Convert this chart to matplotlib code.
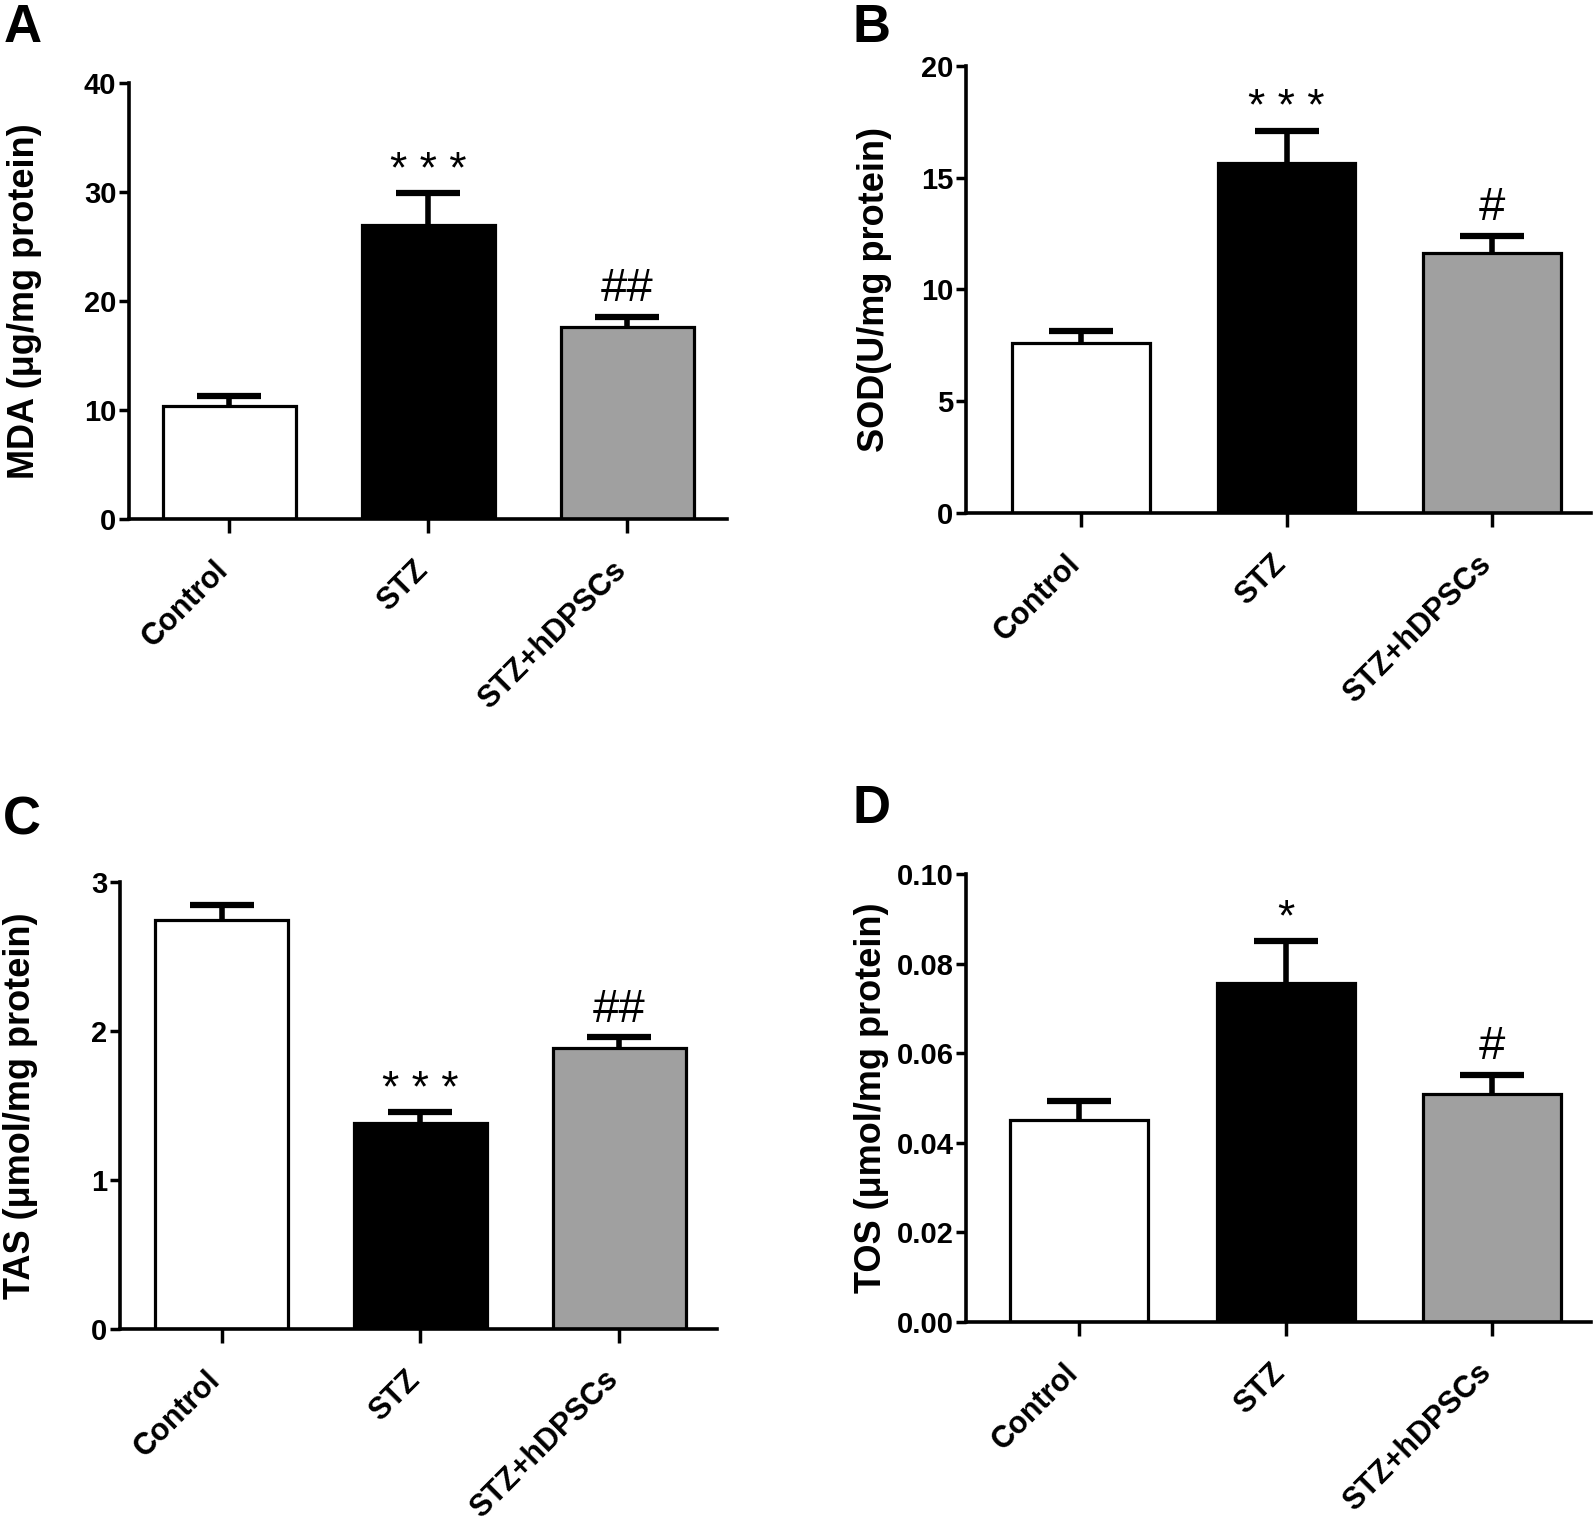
import numpy as np
import matplotlib
matplotlib.use('Agg')
import matplotlib.pyplot as plt
from matplotlib.transforms import ScaledTranslation

groups = ['Control', 'STZ', 'STZ+hDPSCs']

mda_mean = [10.35, 27.0, 17.6]
mda_err = [0.95, 2.9, 0.95]
sod_mean = [7.6, 15.65, 11.65]
sod_err = [0.55, 1.45, 0.75]
tas_mean = [2.75, 1.38, 1.89]
tas_err = [0.10, 0.075, 0.07]
tos_mean = [0.045, 0.0758, 0.0509]
tos_err = [0.0043, 0.0093, 0.0043]

mda_marks = ['', '* * *', '##']
sod_marks = ['', '* * *', '#']
tas_marks = ['', '* * *', '##']
tos_marks = ['', '*', '#']

colors = ['white', 'black', '#a0a0a0']

tick_font = ['Liberation Sans Narrow', 'Liberation Sans', 'DejaVu Sans']
label_font = ['Liberation Sans', 'DejaVu Sans']

fig = plt.figure(figsize=(15.94, 15.23), dpi=100)


def panel(rect, means, errs, marks, ylim, yticks, fmt, ylabel, label_x, letter, letter_xy, xlim):
    ax = fig.add_axes(rect)
    x = np.arange(len(groups))
    _, caps, _ = ax.errorbar(x, means, yerr=[np.zeros(len(errs)), errs], fmt='none',
                             ecolor='black', elinewidth=4, capsize=23, capthick=4.5, zorder=1)
    caps[0].set_visible(False)
    ax.bar(x, means, width=0.67, color=colors, edgecolor='black', linewidth=2.3, zorder=2)
    for xi, m, e, s in zip(x, means, errs, marks):
        if not s:
            continue
        if '*' in s:
            size, off = 32, 1
        else:
            size, off = 34, 4
        ax.annotate(s, (xi, m + e), xytext=(0, off), textcoords='offset points',
                    ha='center', va='bottom', fontsize=size, family=label_font)
    ax.set_ylim(*ylim)
    ax.set_xlim(*xlim)
    ax.set_yticks(yticks)
    ax.set_yticklabels([fmt.format(t) for t in yticks], family=tick_font,
                       fontweight='bold', fontsize=21)
    ax.set_xticks(x)
    ax.set_xticklabels(groups, rotation=45, ha='right', rotation_mode='anchor',
                       family=label_font, fontweight='bold', fontsize=22)
    ax.tick_params(axis='y', length=7, width=2.5, pad=2)
    ax.tick_params(axis='x', length=10, width=2.5, pad=16)
    # shift the slanted labels a bit to the left, like the original
    shift = ScaledTranslation(-16 / 100, 0, fig.dpi_scale_trans)
    for lab in ax.get_xticklabels():
        lab.set_transform(lab.get_transform() + shift)
    for side in ['top', 'right']:
        ax.spines[side].set_visible(False)
    for side in ['left', 'bottom']:
        ax.spines[side].set_linewidth(2.6)
    ax.set_ylabel(ylabel, family=label_font, fontweight='bold', fontsize=26)
    ax.yaxis.set_label_coords(label_x, rect[1] + rect[3] / 2, transform=fig.transFigure)
    fig.text(letter_xy[0], letter_xy[1], letter, family=label_font, fontweight='bold',
             fontsize=38, ha='left', va='top')
    return ax


panel([0.0809, 0.6592, 0.375, 0.2863], mda_mean, mda_err, mda_marks, (0, 40),
      [0, 10, 20, 30, 40], '{:g}', 'MDA (\u03bcg/mg protein)', 0.0266, 'A', (0.002, 0.998),
      (-0.505, 2.5))
panel([0.606, 0.6632, 0.392, 0.2935], sod_mean, sod_err, sod_marks, (0, 20),
      [0, 5, 10, 15, 20], '{:g}', 'SOD(U/mg protein)', 0.5596, 'B', (0.535, 0.998),
      (-0.56, 2.48))
panel([0.0753, 0.1276, 0.3745, 0.293], tas_mean, tas_err, tas_marks, (0, 3),
      [0, 1, 2, 3], '{:g}', 'TAS (\u03bcmol/mg protein)', 0.024, 'C', (0.002, 0.478),
      (-0.51, 2.49))
panel([0.606, 0.1322, 0.392, 0.2937], tos_mean, tos_err, tos_marks, (0, 0.10),
      [0, 0.02, 0.04, 0.06, 0.08, 0.10], '{:.2f}', 'TOS (\u03bcmol/mg protein)', 0.5577, 'D',
      (0.535, 0.485), (-0.55, 2.48))

fig.savefig('out.png', dpi=100)
